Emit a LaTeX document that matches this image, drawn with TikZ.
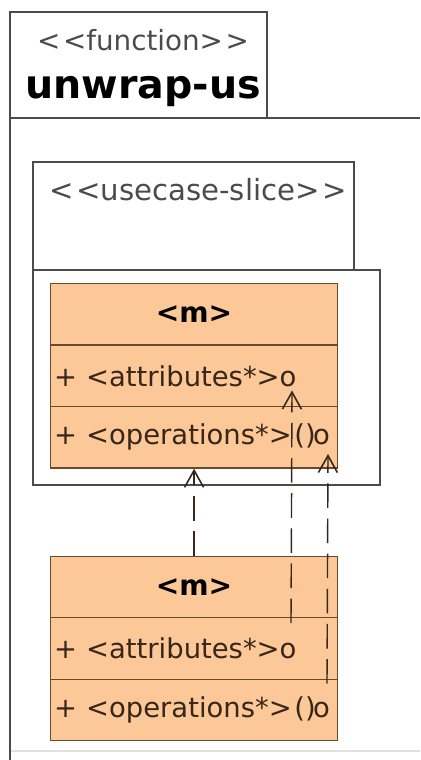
\documentclass[tikz,border=0pt]{standalone}
\usepackage{fontspec}
\setmainfont{DejaVu Sans}
\usetikzlibrary{arrows.meta, calc, positioning}
\definecolor{durazno}{RGB}{252,200,152}
\definecolor{marron}{RGB}{105,72,45}
\definecolor{tinta}{RGB}{55,38,25}
\definecolor{marco}{RGB}{75,75,75}
\newcommand{\opsrow}{\mbox{+ <operations*>\kern1.5pt()\kern-1.5pt o}}

\begin{document}
\begin{tikzpicture}[x=0.02cm, y=-0.02cm, line width=0.7pt,
  comp/.style={draw=marron, fill=durazno, text=tinta, minimum height=1.23cm,
    text width=5.6cm, inner xsep=0.07cm, inner ysep=0pt, align=left,
    font=\fontsize{15.6}{18}\selectfont},
  head/.style={comp, align=center, text=black, font=\bfseries\fontsize{16}{19}\selectfont},
  dep/.style={draw=tinta, line width=0.8pt, dash pattern=on 14pt off 6pt,
    -{Straight Barb[length=3.4mm, width=3.8mm, line width=0.9pt]}},
  tab/.style={draw=marco, line width=0.7pt},
  stereo/.style={text=marco, font=\fontsize{15.8}{18}\selectfont}]
  \useasboundingbox (0,0) rectangle (420,760);
  % marco de la función
  \draw[black!12] (10,751) -- (420,751);
  \draw[marco, line width=1.1pt] (420,118) -- (10,118) -- (10,760);
  \draw[tab] (10,12) rectangle (267,118);
  \node[stereo] (fnStereo) at (143,40) {<\kern1.5pt<function>\kern1.5pt>};
  \node[font=\bfseries\fontsize{22.5}{26}\selectfont] (fnName) at (143,92) {unwrap-us};
  % paquete del caso de uso
  \draw[tab] (33,162) rectangle (354,270);
  \draw[tab] (33,270) rectangle (380,485);
  \node[stereo, font=\fontsize{16.6}{19}\selectfont] (sliceStereo) at (198,190)
    {<\kern1.5pt<usecase-slice>\kern1.5pt>};
  % clases
  \node[head, anchor=north west] (mUpHead) at (50,283) {<m>};
  \node[comp, below=-0.7pt of mUpHead] (mUpAttr) {+ <attributes*>o};
  \node[comp, below=-0.7pt of mUpAttr] (mUpOps) {\opsrow};
  \node[head, below=1.74cm of mUpOps] (mLowHead) {<m>};
  \node[comp, below=-0.7pt of mLowHead] (mLowAttr) {+ <attributes*>o};
  \node[comp, below=-0.7pt of mLowAttr] (mLowOps) {\opsrow};
  % dependencias
  \coordinate (attrUp) at ($(mUpAttr.north west)+(242,46)$);
  \coordinate (attrLow) at ($(mLowAttr.north west)+(241,6)$);
  \coordinate (opsUp) at ($(mUpOps.north west)+(278,48)$);
  \coordinate (opsLow) at ($(mLowOps.north west)+(277,5)$);
  \draw[dep] (mLowHead.north) -- (mUpOps.south);
  \draw[dep] (attrLow) -- (attrUp);
  \draw[dep] (opsLow) -- (opsUp);
\end{tikzpicture}
\end{document}
